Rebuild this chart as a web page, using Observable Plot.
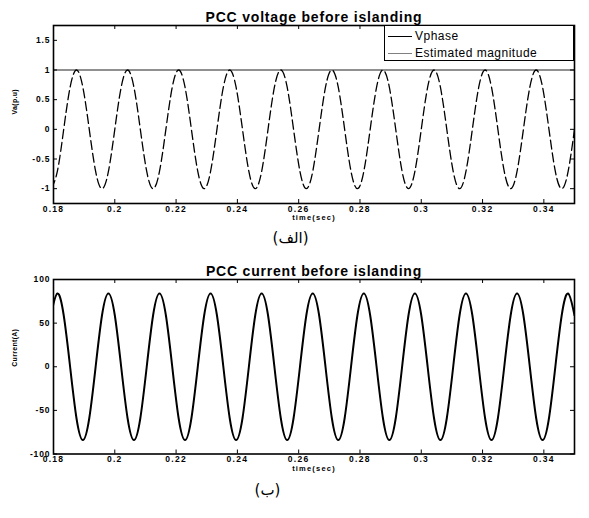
<!DOCTYPE html>
<html><head><meta charset="utf-8">
<script src="https://cdn.jsdelivr.net/npm/d3@7"></script>
<script src="https://cdn.jsdelivr.net/npm/@observablehq/plot@0.6"></script>
<style>
body{margin:0;background:#fff;}
#wrap{position:relative;width:589px;height:518px;font-family:"Liberation Sans",Arial,sans-serif;}
#wrap svg{display:block;}
.legend{position:absolute;left:384px;top:25px;width:190px;height:36px;border:1px solid #000;background:#fff;box-sizing:border-box;}
.row{position:absolute;left:0;height:14px;width:100%;}
.sw{position:absolute;left:3px;top:7px;width:24px;height:0;border-top:1.2px solid #000;}
.lt{position:absolute;left:30px;top:0;font-size:12px;line-height:14px;letter-spacing:0.5px;color:#000;white-space:nowrap;}
</style>
</head><body>
<div id="wrap"></div>
<script>
// ---- data ----
const time = [
  0.17917, 0.18125, 0.18333, 0.18542, 0.1875, 0.18958, 0.19167, 0.19375,
  0.19583, 0.19792, 0.2, 0.20208, 0.20417, 0.20625, 0.20833, 0.21042,
  0.2125, 0.21458, 0.21667, 0.21875, 0.22083, 0.22292, 0.225, 0.22708,
  0.22917, 0.23125, 0.23333, 0.23542, 0.2375, 0.23958, 0.24167, 0.24375,
  0.24583, 0.24792, 0.25, 0.25208, 0.25417, 0.25625, 0.25833, 0.26042,
  0.2625, 0.26458, 0.26667, 0.26875, 0.27083, 0.27292, 0.275, 0.27708,
  0.27917, 0.28125, 0.28333, 0.28542, 0.2875, 0.28958, 0.29167, 0.29375,
  0.29583, 0.29792, 0.3, 0.30208, 0.30417, 0.30625, 0.30833, 0.31042,
  0.3125, 0.31458, 0.31667, 0.31875, 0.32083, 0.32292, 0.325, 0.32708,
  0.32917, 0.33125, 0.33333, 0.33542, 0.3375, 0.33958, 0.34167, 0.34375,
  0.34583, 0.34792, 0.35
];
const vphase = [
  -1, -0.71, 0, 0.71, 1, 0.71, 0, -0.71,
  -1, -0.71, 0, 0.71, 1, 0.71, 0, -0.71,
  -1, -0.71, 0, 0.71, 1, 0.71, 0, -0.71,
  -1, -0.71, 0, 0.71, 1, 0.71, 0, -0.71,
  -1, -0.71, 0, 0.71, 1, 0.71, 0, -0.71,
  -1, -0.71, 0, 0.71, 1, 0.71, 0, -0.71,
  -1, -0.71, 0, 0.71, 1, 0.71, 0, -0.71,
  -1, -0.71, 0, 0.71, 1, 0.71, 0, -0.71,
  -1, -0.71, 0, 0.71, 1, 0.71, 0, -0.71,
  -1, -0.71, 0, 0.71, 1, 0.71, 0, -0.71,
  -1, -0.71, 0
];
const current = [
  59, 84, 59, 0, -59, -84, -59, 0,
  59, 84, 59, 0, -59, -84, -59, 0,
  59, 84, 59, 0, -59, -84, -59, 0,
  59, 84, 59, 0, -59, -84, -59, 0,
  59, 84, 59, 0, -59, -84, -59, 0,
  59, 84, 59, 0, -59, -84, -59, 0,
  59, 84, 59, 0, -59, -84, -59, 0,
  59, 84, 59, 0, -59, -84, -59, 0,
  59, 84, 59, 0, -59, -84, -59, 0,
  59, 84, 59, 0, -59, -84, -59, 0,
  59, 84, 59
];
const magTime = [0.18, 0.35];
const magValue = [1, 1];

const xTicks = [0.18, 0.2, 0.22, 0.24, 0.26, 0.28, 0.3, 0.32, 0.34];
const xTickLabels = ["0.18", "0.2", "0.22", "0.24", "0.26", "0.28", "0.3", "0.32", "0.34"];
const vTicks = [-1, -0.5, 0, 0.5, 1, 1.5];
const vTickLabels = ["-1", "-0.5", "0", "0.5", "1", "1.5"];
const iTicks = [-100, -50, 0, 50, 100];
const iTickLabels = ["-100", "-50", "0", "50", "100"];

const titles = ["PCC voltage before islanding", "PCC current before islanding"];
const yLabels = ["Va(p.u)", "Current(A)"];
const xLabel = "time(sec)";
const captions = ["(الف)", "(ب)"];
const legendNames = ["Vphase", "Estimated magnitude"];
const legendColors = ["#000", "#808080"];

// ---- drawing ----
const FONT = '"Liberation Sans", Arial, sans-serif';
const W = 589, ML = 53, MR = 15;

function panel(o) {
  const frameH = o.height - o.marginTop - o.marginBottom;
  const frameW = W - ML - MR;
  const xl = new Map(xTicks.map((d, i) => [d, xTickLabels[i]]));
  const yl = new Map(o.yTicks.map((d, i) => [d, o.yTickLabels[i]]));
  const svg = Plot.plot({
    width: W, height: o.height,
    marginTop: o.marginTop, marginBottom: o.marginBottom, marginLeft: ML, marginRight: MR,
    style: {fontFamily: FONT, background: "white", color: "black", overflow: "visible"},
    x: {domain: [0.18, 0.35]},
    y: {domain: o.yDomain},
    marks: [
      ...o.marks,
      Plot.tickX(xTicks, {x: d => d, insetTop: frameH - 4, stroke: "black", strokeWidth: 1}),
      Plot.tickX(xTicks, {x: d => d, insetBottom: frameH - 4, stroke: "black", strokeWidth: 1}),
      Plot.tickY(o.yTicks, {y: d => d, insetLeft: frameW - 4, stroke: "black", strokeWidth: 1}),
      Plot.tickY(o.yTicks, {y: d => d, insetRight: frameW - 4, stroke: "black", strokeWidth: 1}),
      Plot.frame({stroke: "black", strokeWidth: 1.6}),
      Plot.axisX(xTicks, {tickSize: 0, tickPadding: 2, tickFormat: d => xl.get(d), fontSize: 8.5, fontWeight: "bold", label: null}),
      Plot.axisY(o.yTicks, {tickSize: 0, tickPadding: 3, tickFormat: d => yl.get(d), fontSize: 8.5, fontWeight: "bold", label: null}),
      Plot.text([o.title], {text: d => d, frameAnchor: "top", dy: -13, fontSize: 14, fontWeight: "bold"}),
      Plot.text([o.ylabel], {text: d => d, frameAnchor: "left", dx: -38.5, rotate: -90, fontSize: 7, fontWeight: "bold"}),
      Plot.text([xLabel], {text: d => d, frameAnchor: "bottom", dy: o.xlabDy, fontSize: 7.5, fontWeight: "bold"}),
      Plot.text([o.caption], {text: d => d, frameAnchor: "bottom", dy: o.capDy, dx: o.capDx, fontSize: 15, fontFamily: "DejaVu Sans"})
    ]
  });
  const s = d3.select(svg);
  s.selectAll('g[aria-label="x-axis tick label"] text').attr("letter-spacing", "1.3px");
  s.selectAll('g[aria-label="y-axis tick label"] text').attr("letter-spacing", "0.9px");
  return svg;
}

const vData = time.map((t, i) => ({t, v: vphase[i]}));
const mData = magTime.map((t, i) => ({t, v: magValue[i]}));
const iData = time.map((t, i) => ({t, v: current[i]}));

const wrap = document.getElementById("wrap");

const topPlot = panel({
  height: 252, marginTop: 25, marginBottom: 49,
  yDomain: [-1.25, 1.75], yTicks: vTicks, yTickLabels: vTickLabels,
  title: titles[0], ylabel: yLabels[0], caption: captions[0],
  xlabDy: 16, capDy: 39, capDx: -23.5,
  marks: [
    Plot.line(mData, {x: "t", y: "v", stroke: "#222", strokeWidth: 1.2, clip: true}),
    Plot.line(vData, {x: "t", y: "v", stroke: "black", strokeWidth: 1.3, strokeDasharray: "9,4", curve: "natural", clip: true})
  ]
});
const bottomPlot = panel({
  height: 266, marginTop: 27, marginBottom: 64.5,
  yDomain: [-100, 100], yTicks: iTicks, yTickLabels: iTickLabels,
  title: titles[1], ylabel: yLabels[1], caption: captions[1],
  xlabDy: 17, capDy: 40.5, capDx: -46.5,
  marks: [
    Plot.line(iData, {x: "t", y: "v", stroke: "black", strokeWidth: 2, curve: "natural", clip: true})
  ]
});
wrap.appendChild(topPlot);
wrap.appendChild(bottomPlot);

// letter spacing for titles and labels
d3.selectAll("#wrap svg g[aria-label='text'] text").each(function () {
  const t = this.textContent;
  if (titles.includes(t)) d3.select(this).attr("letter-spacing", "0.8px");
  if (t === xLabel) d3.select(this).attr("letter-spacing", "1.2px");
  if (yLabels.includes(t)) d3.select(this).attr("letter-spacing", "0.3px");
});

// legend box
const lg = document.createElement("div");
lg.className = "legend";
legendNames.forEach((name, i) => {
  const r = document.createElement("div");
  r.className = "row";
  r.style.top = (3 + i * 16.5) + "px";
  const sw = document.createElement("div");
  sw.className = "sw";
  sw.style.borderTopColor = legendColors[i];
  const tx = document.createElement("div");
  tx.className = "lt";
  tx.textContent = name;
  r.appendChild(sw); r.appendChild(tx);
  lg.appendChild(r);
});
wrap.appendChild(lg);
</script>
</body></html>
